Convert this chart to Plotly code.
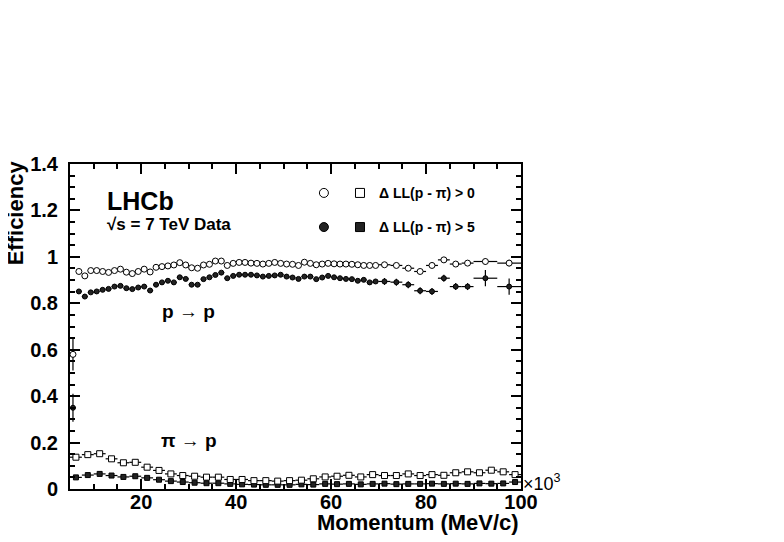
import numpy as np
import plotly.graph_objects as go

# proton -> proton efficiency, momentum in units of 10^3 MeV/c
P_EDGES = [5.0, 6.25, 7.5, 8.75, 10.0, 11.25, 12.5, 13.75, 15.0, 16.25, 17.5, 18.75,
           20.0, 21.25, 22.5, 23.75, 25.0, 26.25, 27.5, 28.75, 30.0, 31.25, 32.5, 33.75,
           35.0, 36.25, 37.5, 38.75, 40.0, 41.25, 42.5, 43.75, 45.0, 46.25, 47.5, 48.75,
           50.0, 51.25, 52.5, 53.75, 55.0, 56.25, 57.5, 58.75, 60.0, 61.25, 62.5, 63.75,
           65.0, 66.25, 67.5, 68.75, 70.0, 72.5, 75.0, 77.5, 80.0, 82.5, 85.0, 87.5,
           90.0, 95.0, 100.0]

p_eff_dll0 = [0.58, 0.937, 0.918, 0.941, 0.941, 0.937, 0.933, 0.941, 0.947, 0.934, 0.928,
              0.937, 0.947, 0.935, 0.955, 0.958, 0.961, 0.965, 0.975, 0.965, 0.953, 0.951,
              0.965, 0.968, 0.982, 0.982, 0.963, 0.972, 0.976, 0.976, 0.973, 0.972, 0.969,
              0.972, 0.976, 0.972, 0.969, 0.968, 0.963, 0.977, 0.972, 0.966, 0.969, 0.972,
              0.970, 0.969, 0.969, 0.968, 0.966, 0.963, 0.963, 0.963,
              0.966, 0.963, 0.951, 0.937, 0.963, 0.987, 0.969, 0.973,
              0.980, 0.973]
p_err_dll0 = [0.07] + [0.004] * 51 + [0.008] * 8 + [0.014] * 2

p_eff_dll5 = [0.35, 0.851, 0.829, 0.847, 0.851, 0.858, 0.862, 0.872, 0.875, 0.865, 0.861,
              0.868, 0.872, 0.855, 0.880, 0.890, 0.897, 0.890, 0.912, 0.905, 0.880, 0.880,
              0.904, 0.912, 0.922, 0.932, 0.908, 0.918, 0.923, 0.923, 0.923, 0.920, 0.915,
              0.918, 0.920, 0.923, 0.915, 0.911, 0.905, 0.915, 0.915, 0.904, 0.911, 0.918,
              0.912, 0.908, 0.905, 0.904, 0.897, 0.901, 0.890, 0.894,
              0.894, 0.891, 0.880, 0.854, 0.851, 0.908, 0.872, 0.872,
              0.908, 0.872]
p_err_dll5 = [0.06] + [0.006] * 51 + [0.015] * 8 + [0.035] * 2

# pion -> proton misidentification rate
PI_EDGES = [5.0, 7.5, 10.0, 12.5, 15.0, 17.5, 20.0, 22.5, 25.0, 27.5, 30.0, 32.5, 35.0,
            37.5, 40.0, 42.5, 45.0, 47.5, 50.0, 52.5, 55.0, 57.5, 60.0, 62.5, 65.0, 67.5,
            70.0, 72.5, 75.0, 77.5, 80.0, 82.5, 85.0, 87.5, 90.0, 92.5, 95.0, 97.5, 100.0]

pi_eff_dll0 = [0.137, 0.148, 0.152, 0.130, 0.113, 0.115, 0.094, 0.080, 0.065, 0.058,
               0.055, 0.051, 0.051, 0.041, 0.041, 0.036, 0.036, 0.034, 0.036, 0.038,
               0.044, 0.052, 0.055, 0.059, 0.052, 0.062, 0.058, 0.058, 0.065, 0.058,
               0.062, 0.059, 0.070, 0.074, 0.070, 0.081, 0.074, 0.062]
pi_eff_dll5 = [0.050, 0.060, 0.065, 0.058, 0.052, 0.055, 0.048, 0.040, 0.034, 0.030,
               0.027, 0.025, 0.025, 0.022, 0.020, 0.019, 0.018, 0.018, 0.018, 0.020,
               0.019, 0.022, 0.021, 0.022, 0.020, 0.022, 0.023, 0.021, 0.022, 0.022,
               0.023, 0.022, 0.023, 0.022, 0.024, 0.023, 0.024, 0.030]
pi_err = [0.004] * 38

FONT = "Liberation Sans"


def centers_and_halfwidths(edges):
    e = np.asarray(edges)
    return (e[1:] + e[:-1]) / 2, (e[1:] - e[:-1]) / 2


def hist_trace(edges, vals, errs, symbol, fill, size):
    x, hw = centers_and_halfwidths(edges)
    return go.Scatter(
        x=x, y=vals, mode="markers", showlegend=False,
        marker=dict(symbol=symbol, size=size, color=fill, line=dict(color="black", width=1)),
        error_x=dict(type="data", array=hw, color="black", thickness=1.2, width=0),
        error_y=dict(type="data", array=errs, color="black", thickness=1.2, width=0),
    )


fig = go.Figure()
fig.add_trace(hist_trace(PI_EDGES, pi_eff_dll5, pi_err, "square", "#222222", 5))
fig.add_trace(hist_trace(PI_EDGES, pi_eff_dll0, pi_err, "square", "white", 6))
fig.add_trace(hist_trace(P_EDGES, p_eff_dll5, p_err_dll5, "circle", "#222222", 5))
fig.add_trace(hist_trace(P_EDGES, p_eff_dll0, p_err_dll0, "circle", "white", 6))

axis_common = dict(
    showline=True, linecolor="black", linewidth=2, mirror="allticks",
    ticks="inside", tickcolor="black", tickwidth=2, ticklen=10,
    showgrid=False, zeroline=False,
    tickfont=dict(family=FONT, size=20, color="black", weight="bold"),
)
fig.update_xaxes(range=[5, 100], tickvals=[20, 40, 60, 80, 100],
                 minor=dict(ticks="inside", ticklen=5, tickwidth=2, tickcolor="black",
                            tickvals=[10, 15, 25, 30, 35, 45, 50, 55, 65, 70, 75, 85, 90, 95]),
                 ticklabelstandoff=-6, **axis_common)
fig.update_yaxes(range=[0, 1.4], dtick=0.2, tick0=0,
                 minor=dict(ticks="inside", ticklen=5, tickwidth=2, tickcolor="black", dtick=0.05),
                 ticklabelstandoff=6, **axis_common)

annots = [
    dict(text="Efficiency", x=-0.12, y=0.851, textangle=-90, font=dict(size=22)),
    dict(text="Momentum (MeV/c)", x=1.0, y=-0.103, xanchor="right", font=dict(size=22)),
    dict(text="×10<sup>3</sup>", x=1.0, y=0.02, xanchor="left", font=dict(size=18, weight="normal")),
    dict(text="LHCb", x=0.078, y=0.886, xanchor="left", font=dict(size=25)),
    dict(text="√s = 7 TeV Data", x=0.078, y=0.813, xanchor="left", font=dict(size=17)),
    dict(text="p → p", x=0.262, y=0.545, font=dict(size=19)),
    dict(text="π → p", x=0.264, y=0.149, font=dict(size=19)),
    dict(text="Δ LL(p - π) > 0", x=0.681, y=0.911, xanchor="left", font=dict(size=14)),
    dict(text="Δ LL(p - π) > 5", x=0.681, y=0.806, xanchor="left", font=dict(size=14)),
]
for a in annots:
    f = dict(family=FONT, color="black", weight="bold")
    f.update(a.pop("font"))
    a.setdefault("xanchor", "center")
    a.setdefault("yanchor", "middle")
    fig.add_annotation(xref="paper", yref="paper", showarrow=False, font=f, **a)

# legend markers
for xm, ym, kind, fill in [(0.563, 0.911, "circle", "white"), (0.643, 0.911, "rect", "white"),
                           (0.563, 0.806, "circle", "#222222"), (0.643, 0.806, "rect", "#222222")]:
    fig.add_shape(type=kind, xref="paper", yref="paper", xsizemode="pixel", ysizemode="pixel",
                  xanchor=xm, yanchor=ym, x0=-4.5, x1=4.5, y0=-4.5, y1=4.5,
                  fillcolor=fill, line=dict(color="black", width=1))

# page body has an 8px margin, so the figure is shifted to line up with the frame
fig.update_layout(
    width=784, height=542,
    margin=dict(l=62, r=271, t=156, b=60.5),
    plot_bgcolor="white", paper_bgcolor="white",
    font=dict(family=FONT, color="black"),
)

fig.write_html("out.html")
